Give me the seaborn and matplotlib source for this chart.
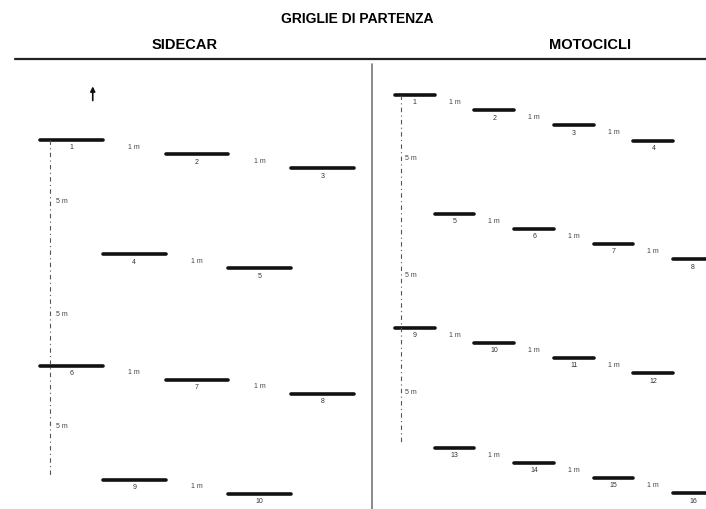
import pandas as pd
import matplotlib
matplotlib.use("Agg")
import matplotlib.pyplot as plt
from matplotlib.lines import Line2D
import seaborn as sns

# starting grid data: slot number, row, lane (column units) and depth (m)
sidecar_slot = [1, 2, 3, 4, 5, 6, 7, 8, 9, 10]
sidecar_row = [1, 1, 1, 2, 2, 3, 3, 3, 4, 4]
sidecar_lane = [0, 1, 2, 0.5, 1.5, 0, 1, 2, 0.5, 1.5]
sidecar_depth = [0, 1, 2, 8.1, 9.1, 16, 17, 18, 24.1, 25.1]

moto_slot = list(range(1, 17))
moto_row = [1, 1, 1, 1, 2, 2, 2, 2, 3, 3, 3, 3, 4, 4, 4, 4]
moto_lane = [0, 1, 2, 3, 0.5, 1.5, 2.5, 3.5, 0, 1, 2, 3, 0.5, 1.5, 2.5, 3.5]
moto_depth = [0, 1, 2, 3, 7.8, 8.8, 9.8, 10.8, 15.3, 16.3, 17.3, 18.3,
              23.2, 24.2, 25.2, 26.2]

stagger_label = "1 m"
row_gap_label = "5 m"
title = "GRIGLIE DI PARTENZA"
panel_titles = ["SIDECAR", "MOTOCICLI"]

SLOT_W = 0.5

sns.set_theme(style="white")
plt.rcParams["font.family"] = ["Liberation Sans", "DejaVu Sans"]


def draw_grid(ax, df, line_x, line_end):
    # each slot is a short horizontal bar
    segs = pd.concat([
        pd.DataFrame({"x": df["lane"], "y": df["depth"], "slot": df["slot"]}),
        pd.DataFrame({"x": df["lane"] + SLOT_W, "y": df["depth"], "slot": df["slot"]}),
    ])
    sns.lineplot(data=segs, x="x", y="y", units="slot", estimator=None,
                 sort=False, color="#111111", lw=2.6, ax=ax)

    for _, r in df.iterrows():
        ax.annotate(str(int(r["slot"])), (r["lane"] + SLOT_W / 2, r["depth"]),
                    xytext=(0, -8), textcoords="offset pixels",
                    ha="center", va="center", fontsize=5, color="#333333")

    # 1 m stagger between neighbours in the same row
    for _, g in df.groupby("row"):
        g = g.sort_values("lane")
        for a, b in zip(g.iloc[:-1].itertuples(), g.iloc[1:].itertuples()):
            x = (a.lane + SLOT_W + b.lane) / 2
            y = (a.depth + b.depth) / 2
            ax.text(x, y, stagger_label, ha="center", va="center",
                    fontsize=5, color="#444444")

    # dashed reference line down the first lane, with the row gaps
    ax.plot([line_x, line_x], [0, line_end], color="#555555", lw=0.8,
            ls=(0, (4, 3, 1, 3)))
    starts = df.groupby("row")["depth"].min().tolist()
    for s0, s1 in zip(starts[:-1], starts[1:]):
        ax.text(line_x + 0.05, (s0 + s1) / 2 + 0.3, row_gap_label,
                ha="left", va="center", fontsize=5, color="#444444")
    ax.set_axis_off()


fig = plt.figure(figsize=(7.06, 5.09), dpi=100)
top = (509 - 62) / 509
ax_l = fig.add_axes([0, 0, 372 / 706, top])
ax_r = fig.add_axes([372 / 706, 0, (706 - 372) / 706, top])

side = pd.DataFrame({"slot": sidecar_slot, "row": sidecar_row,
                     "lane": sidecar_lane, "depth": sidecar_depth})
moto = pd.DataFrame({"slot": moto_slot, "row": moto_row,
                     "lane": moto_lane, "depth": moto_depth})

draw_grid(ax_l, side, 0.076, 23.8)
draw_grid(ax_r, moto, 0.07, 23.0)

ax_l.set_xlim(-0.319, 2.645)
ax_l.set_ylim(26.17, -5.53)
ax_r.set_xlim(-0.289, 3.912)
ax_r.set_ylim(27.24, -2.17)

# direction of travel
ax_l.annotate("", xy=(0.42, -4.0), xytext=(0.42, -2.6),
              arrowprops=dict(arrowstyle="-|>", color="#111111", lw=1.2,
                              mutation_scale=7))

fig.text(357 / 706, 1 - 19 / 509, title, ha="center", va="center",
         fontsize=10, fontweight="bold", color="black")
fig.text(185 / 706, 1 - 45 / 509, panel_titles[0], ha="center", va="center",
         fontsize=10.5, fontweight="bold", color="black")
fig.text(590 / 706, 1 - 45 / 509, panel_titles[1], ha="center", va="center",
         fontsize=10.5, fontweight="bold", color="black")

fig.add_artist(Line2D([15 / 706, 1], [1 - 59 / 509, 1 - 59 / 509],
                      color="#222222", lw=1.6))
fig.add_artist(Line2D([372 / 706, 372 / 706], [0, 1 - 64 / 509],
                      color="#777777", lw=1.2))

fig.savefig("out.png", dpi=100)
